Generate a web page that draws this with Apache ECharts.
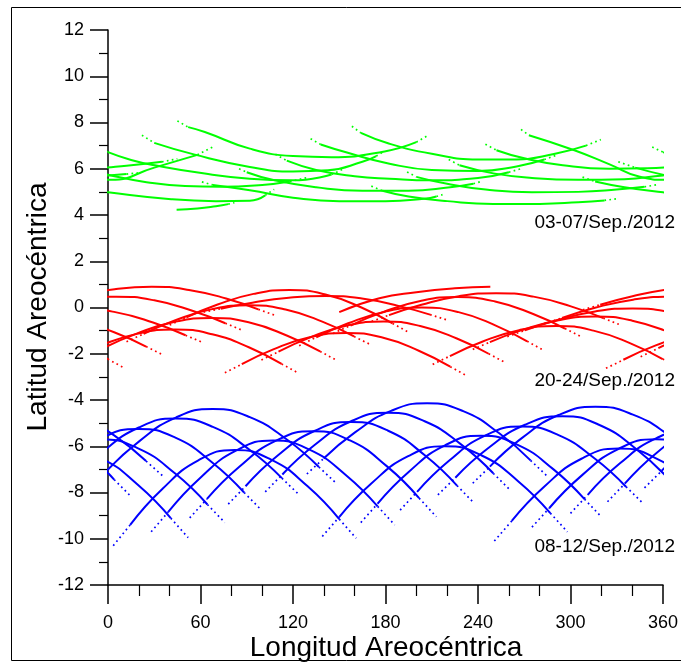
<!DOCTYPE html>
<html><head><meta charset="utf-8">
<script src="https://cdn.jsdelivr.net/npm/echarts/dist/echarts.min.js"></script>
<style>html,body{margin:0;padding:0;background:#fff}#c{width:681px;height:664px}</style>
</head><body><div id="c"></div>
<script>
// ---- data: tracks as [longitude, latitude] points (first/last segment = dotted tails)
const blueTracks = [
 [[3.4,-10.3],[14.4,-9.4],[34.9,-7.87],[58.6,-6.61],[82.2,-6.16],[105.8,-6.58],[129.5,-7.73],[150,-9.15],[161,-9.98]],
 [[28,-9.7],[39.1,-8.84],[59.6,-7.38],[83.3,-6.18],[107,-5.75],[130.7,-6.15],[154.4,-7.25],[174.9,-8.6],[186,-9.4]],
 [[53,-9.1],[64.2,-8.28],[85,-6.9],[109,-5.76],[133,-5.35],[157,-5.75],[181,-6.87],[201.8,-8.24],[213,-9.05]],
 [[78,-8.5],[89.2,-7.73],[109.9,-6.41],[133.9,-5.34],[157.8,-4.95],[181.7,-5.33],[205.7,-6.4],[226.4,-7.7],[237.6,-8.47]],
 [[102,-7.97],[113.1,-7.22],[133.8,-5.96],[157.7,-4.92],[181.5,-4.55],[205.4,-4.92],[229.2,-5.93],[249.9,-7.17],[261,-7.9]],
 [[129,-7.2],[139.9,-6.53],[160.2,-5.4],[183.6,-4.47],[207,-4.14],[230.4,-4.48],[253.8,-5.44],[274.1,-6.61],[285,-7.3]],
 [[139,-9.9],[150.1,-9.05],[170.8,-7.61],[194.7,-6.43],[218.5,-6.0],[242.4,-6.4],[266.2,-7.52],[286.9,-8.89],[298,-9.7]],
 [[164,-9.3],[174.9,-8.48],[195.2,-7.1],[218.6,-5.96],[242,-5.55],[265.4,-5.93],[288.8,-6.99],[309.1,-8.29],[320,-9.05]],
 [[189.5,-8.76],[200.5,-7.97],[221,-6.64],[244.6,-5.54],[268.3,-5.15],[291.9,-5.51],[315.5,-6.52],[336,-7.75],[347,-8.47]],
 [[214,-8.1],[225.3,-7.36],[246.3,-6.1],[270.5,-5.07],[294.7,-4.7],[318.8,-5.08],[343,-6.14],[364,-7.44],[375.3,-8.2]],
 [[236.6,-7.6],[247.7,-6.88],[268.4,-5.65],[292.3,-4.65],[316.2,-4.29],[340.1,-4.62],[364,-5.53],[384.7,-6.64],[395.8,-7.3]],
 [[250.6,-10.1],[261.9,-9.23],[282.9,-7.75],[307.1,-6.54],[331.3,-6.1],[355.5,-6.52],[379.7,-7.69],[400.7,-9.11],[412,-9.95]],
 [[275,-9.5],[286.3,-8.67],[307.2,-7.27],[331.3,-6.11],[355.4,-5.7],[379.5,-6.09],[403.6,-7.18],[424.5,-8.52],[435.8,-9.3]],
 [[300,-8.9],[311.2,-8.1],[331.9,-6.75],[355.8,-5.65],[379.8,-5.25],[403.7,-5.63],[427.6,-6.7],[448.3,-8.0],[459.5,-8.76]],
 [[324,-8.4],[335.2,-7.62],[356,-6.28],[380,-5.19],[404,-4.8],[428,-5.16],[452,-6.16],[472.8,-7.38],[484,-8.1]],
 [[348,-7.8],[359.2,-7.06],[380,-5.8],[404,-4.76],[428,-4.39],[452,-4.74],[476,-5.71],[496.8,-6.9],[508,-7.6]]
];
const redTracks = [
 [[323,-2.63],[334.3,-2.26],[355.3,-1.64],[379.3,-1.13],[403.5,-0.95],[427.6,-1.16],[451.7,-1.73],[472.6,-2.44],[483.9,-2.85]],
 [[345.5,-2.13],[357,-1.76],[378.2,-1.14],[402.7,-0.63],[427.3,-0.45],[451.8,-0.65],[476.3,-1.22],[497.6,-1.9],[509,-2.31]],
 [[372,-1.48],[383.1,-1.14],[403.7,-0.55],[427.5,-0.07],[451.4,0.1],[475.2,-0.09],[499,-0.61],[519.6,-1.25],[530.7,-1.62]],
 [[400,-0.76],[410.9,-0.43],[431.1,0.13],[454.4,0.59],[477.8,0.76],[501.1,0.56],[524.4,0.0],[544.6,-0.69],[555.5,-1.09]],
 [[422,-0.2],[433.1,-0.05],[453.6,0.21],[477.3,0.42],[501,0.5],[524.7,0.39],[548.4,0.07],[568.9,-0.31],[580,-0.54]],
 [[75.8,-2.82],[86.8,-2.45],[107.2,-1.81],[130.8,-1.29],[154.4,-1.1],[178,-1.3],[201.6,-1.87],[222,-2.56],[233,-2.96]],
 [[99.5,-2.27],[110.6,-1.91],[131.2,-1.29],[155,-0.78],[178.8,-0.6],[202.5,-0.8],[226.3,-1.34],[246.9,-2.0],[258,-2.39]],
 [[124,-1.65],[135.1,-1.29],[155.8,-0.68],[179.7,-0.18],[203.5,0.0],[227.4,-0.2],[251.2,-0.77],[271.9,-1.46],[283,-1.87]],
 [[146,-1.12],[157.3,-0.78],[178.3,-0.2],[202.6,0.28],[226.9,0.45],[251.1,0.26],[275.4,-0.27],[296.4,-0.91],[307.7,-1.29]],
 [[171,-0.6],[182.3,-0.33],[203.3,0.12],[227.6,0.49],[251.8,0.62],[276,0.47],[300.3,0.05],[321.3,-0.46],[332.6,-0.76]],
 [[210.6,-2.46],[221.8,-2.1],[242.7,-1.48],[266.7,-0.98],[290.8,-0.8],[314.9,-1.0],[338.9,-1.55],[359.8,-2.23],[371,-2.63]],
 [[236.6,-1.81],[247.7,-1.5],[268.4,-0.98],[292.3,-0.55],[316.2,-0.39],[340.1,-0.57],[364,-1.07],[384.7,-1.69],[395.8,-2.05]],
 [[259,-1.26],[270.4,-0.99],[291.5,-0.54],[316,-0.17],[340.4,-0.04],[364.7,-0.2],[389.2,-0.65],[410.3,-1.2],[421.7,-1.52]],
 [[283,-0.7],[294.5,-0.45],[315.9,-0.01],[340.6,0.34],[365.3,0.47],[390,0.31],[414.7,-0.14],[436.1,-0.68],[447.6,-1.0]],
 [[308,-0.1],[319.3,0.12],[340.2,0.49],[364.3,0.79],[388.4,0.9],[412.5,0.76],[436.6,0.39],[457.5,-0.08],[468.8,-0.35]]
];
const redPartial = [
 [[150,-0.2],[176,0.4],[200,0.66],[225,0.83],[248,0.9]]
];
const greenTracks = [
 [[307.8,5.64],[316,5.45],[335,5.2],[360,4.98],[401,4.68],[430,4.6],[452,4.62],[462,4.85],[467.8,5.11]],
 [[331,6.3],[342,6.05],[362,5.71],[385,5.42],[410,5.25],[433,5.22],[460,5.3],[478,5.45],[488.7,5.61]],
 [[353,6.94],[360,6.72],[375,6.38],[390.4,6.15],[422.8,5.79],[452,5.57],[480,5.5],[505,5.75],[513,6.0]],
 [[382,7.45],[390,7.12],[416.3,6.61],[452,6.08],[480,5.88],[502.7,5.93],[525,6.3],[534,6.55],[538.3,6.72]],
 [[405,8.07],[412,7.8],[422.8,7.59],[452,6.87],[480,6.55],[505,6.5],[539.4,6.75],[560,7.15],[567,7.42]],
 [[60.9,5.43],[68,5.3],[92,5.07],[120,4.75],[150,4.6],[180,4.6],[205,4.7],[213,4.8],[217,4.88]],
 [[85,6.0],[90,5.85],[108,5.5],[135,5.2],[165,5.05],[195,5.05],[222,5.2],[237,5.35],[243,5.47]],
 [[108.6,6.63],[116,6.35],[135,5.95],[160,5.68],[182.6,5.57],[210,5.5],[240,5.6],[260,5.85],[268,6.0]],
 [[131.4,7.3],[138,7.05],[155,6.7],[182.6,6.22],[210,5.95],[240,5.9],[265,6.1],[283,6.4],[290.6,6.58]],
 [[158.2,7.84],[164,7.55],[182.6,7.08],[210,6.65],[240,6.4],[265,6.4],[290,6.65],[310,7.0],[319.7,7.26]],
 [[170.8,5.25],[178,5.05],[195,4.8],[220,4.6],[250,4.48],[280,4.48],[305,4.55],[322,4.63],[329.5,4.7]],
 [[194,5.86],[200,5.65],[220,5.35],[245,5.1],[275,4.98],[305,5.0],[330,5.1],[348,5.22],[356.4,5.31]],
 [[221,6.4],[228,6.15],[250,5.8],[275,5.6],[305,5.52],[335,5.55],[360,5.71],[372,5.77],[379.4,5.82]],
 [[244.8,7.06],[252,6.8],[270,6.45],[295,6.15],[325,6.0],[350,6.02],[372,6.13],[395,6.3],[405,6.43]],
 [[267.9,7.7],[273,7.45],[302.5,6.8],[325,6.2],[345,5.65],[362,5.52],[390,6.05],[418,6.6],[428,6.94]]
];
const greenPartial = [
 [[44.5,4.23],[58,4.28],[70,4.38],[78,4.47],[82,4.53]]
];
const periodLabels = ['03-07/Sep./2012', '20-24/Sep./2012', '08-12/Sep./2012'];
const periodLabelLat = [3.68, -3.15, -10.35];
const xRange = [0, 360], xStep = 60;
const yRange = [-12, 12], yStep = 2;

// ---- build
const series = [];
function addTrack(pts, color, tailStart, tailEnd) {
  const n = pts.length;
  const shifts = [0];
  if (pts.some(p => p[0] > 360)) shifts.push(-360);
  shifts.forEach(s => {
    const sh = pts.map(p => [p[0] + s, p[1]]);
    const b0 = tailStart ? 1 : 0, b1 = tailEnd ? n - 2 : n - 1;
    const common = {type: 'line', symbol: 'none', clip: true, silent: true, animation: false, z: 3};
    series.push(Object.assign({}, common, {data: sh.slice(b0, b1 + 1), smooth: 0.5,
      lineStyle: {color: color, width: 2}}));
    const tail = {lineStyle: {color: color, width: 1.7, type: [1.7, 3.3]}};
    if (tailStart) series.push(Object.assign({}, common, tail, {data: sh.slice(0, 2)}));
    if (tailEnd) series.push(Object.assign({}, common, tail, {data: sh.slice(n - 2)}));
  });
}
blueTracks.forEach(t => addTrack(t, '#0000FF', true, true));
redTracks.forEach(t => addTrack(t, '#FF0000', true, true));
redPartial.forEach(t => addTrack(t, '#FF0000', false, false));
greenTracks.forEach(t => addTrack(t, '#00FF00', true, true));
greenPartial.forEach(t => addTrack(t, '#00FF00', false, true));

const chart = echarts.init(document.getElementById('c'), null, {renderer: 'canvas'});
const font = '"Liberation Sans", Arial, sans-serif';
const grid = {left: 108, right: 17, top: 30, bottom: 79};
chart.setOption({
  animation: false,
  backgroundColor: '#fff',
  grid: Object.assign({containLabel: false}, grid),
  xAxis: {
    type: 'value', min: xRange[0], max: xRange[1], interval: xStep,
    axisLine: {show: true, onZero: false, lineStyle: {color: '#000', width: 1.5}},
    axisTick: {show: true, inside: false, length: 19, lineStyle: {color: '#000', width: 1.5}},
    minorTick: {show: true, splitNumber: 3, length: 11, lineStyle: {color: '#000', width: 1.2}},
    axisLabel: {color: '#000', fontSize: 18, fontFamily: font, margin: 29},
    splitLine: {show: false}, minorSplitLine: {show: false}
  },
  yAxis: {
    type: 'value', min: yRange[0], max: yRange[1], interval: yStep,
    axisLine: {show: true, onZero: false, lineStyle: {color: '#000', width: 1.5}},
    axisTick: {show: true, inside: false, length: 18, lineStyle: {color: '#000', width: 1.5}},
    minorTick: {show: true, splitNumber: 2, length: 9, lineStyle: {color: '#000', width: 1.2}},
    axisLabel: {color: '#000', fontSize: 18, fontFamily: font, margin: 24},
    splitLine: {show: false}, minorSplitLine: {show: false}
  },
  series: series
});
// period labels anchored to the data coordinates at the right edge
const labelGraphics = periodLabels.map((s, i) => {
  const p = chart.convertToPixel({gridIndex: 0}, [xRange[1], periodLabelLat[i]]);
  return {type: 'text', x: p[0] + 12, y: p[1], silent: true,
    style: {text: s, font: '19px ' + font, fill: '#000', align: 'right', verticalAlign: 'middle', textAlign: 'right', textVerticalAlign: 'middle'}};
});
chart.setOption({
  graphic: [
    {type: 'rect', shape: {x: 11.5, y: 7.5, width: 680, height: 653}, style: {fill: 'none', stroke: '#000', lineWidth: 1}, silent: true, z: 0},
    {type: 'text', x: 38, y: 307, rotation: Math.PI / 2, silent: true,
      style: {text: 'Latitud Areocéntrica', font: '28px ' + font, fill: '#000', align: 'center', verticalAlign: 'middle', textAlign: 'center', textVerticalAlign: 'middle'}},
    {type: 'text', x: 386, y: 648, silent: true,
      style: {text: 'Longitud Areocéntrica', font: '28px ' + font, fill: '#000', align: 'center', verticalAlign: 'middle', textAlign: 'center', textVerticalAlign: 'middle'}}
  ].concat(labelGraphics)
});
</script></body></html>
